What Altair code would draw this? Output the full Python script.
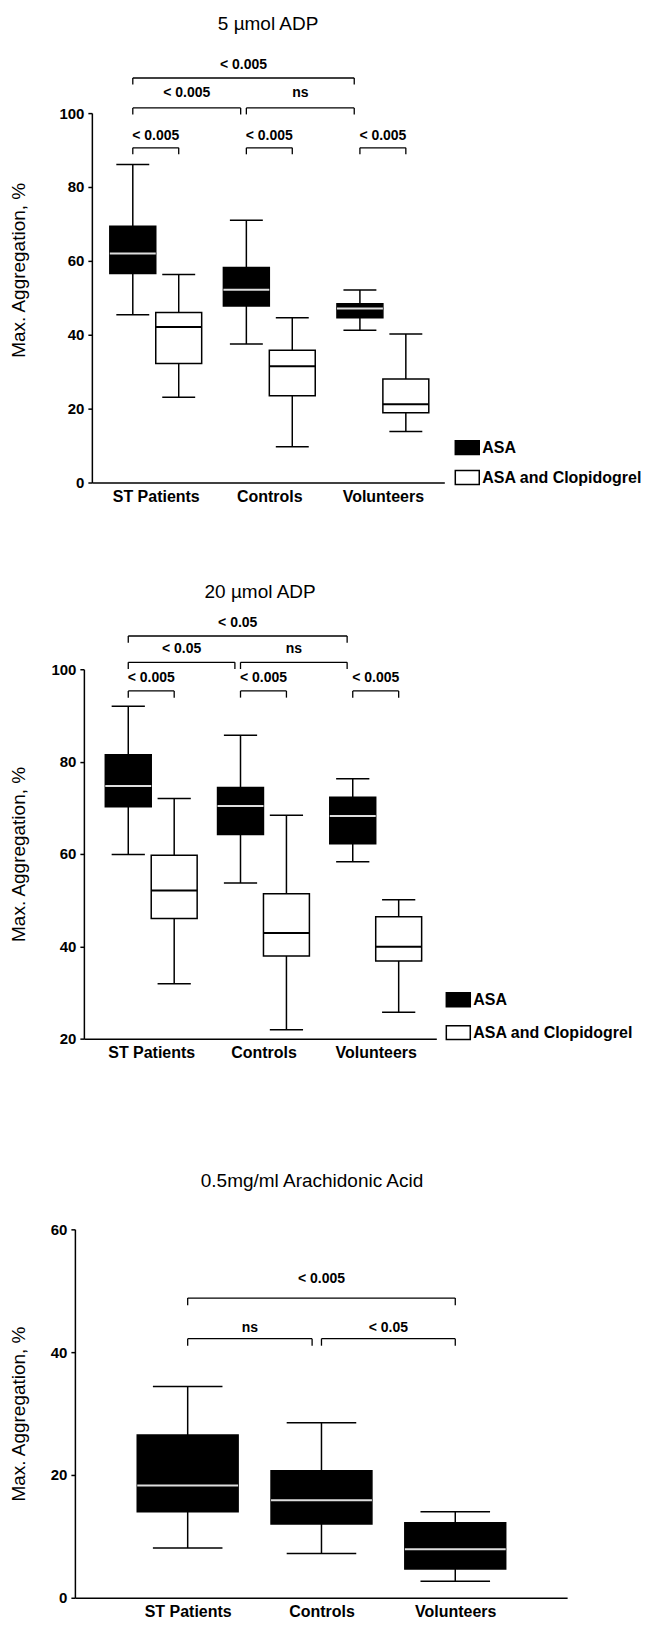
import altair as alt
import pandas as pd

FONT = "Liberation Sans"

groups = ["ST Patients", "Controls", "Volunteers"]
treatments = ["ASA", "ASA and Clopidogrel"]

# ---------- Panel 1: 5 µmol ADP ----------
adp5_asa_low = [45.4, 37.5, 41.2]
adp5_asa_q1 = [56.6, 47.8, 44.6]
adp5_asa_med = [62.0, 52.2, 47.1]
adp5_asa_q3 = [69.4, 58.2, 48.4]
adp5_asa_high = [86.1, 71.0, 52.1]
adp5_clo_low = [23.1, 9.7, 13.8]
adp5_clo_q1 = [32.2, 23.5, 18.9]
adp5_clo_med = [42.1, 31.5, 21.2]
adp5_clo_q3 = [46.0, 35.8, 28.0]
adp5_clo_high = [56.3, 44.6, 40.2]

adp5_br_from_group = ["ST Patients", "Controls", "Volunteers", "ST Patients", "Controls", "ST Patients"]
adp5_br_from_treat = ["ASA", "ASA", "ASA", "ASA", "ASA", "ASA"]
adp5_br_to_group = ["ST Patients", "Controls", "Volunteers", "Controls", "Volunteers", "Volunteers"]
adp5_br_to_treat = ["ASA and Clopidogrel", "ASA and Clopidogrel", "ASA and Clopidogrel", "ASA", "ASA", "ASA"]
adp5_br_level = [90.6, 90.6, 90.6, 101.4, 101.4, 109.5]
adp5_br_label = ["< 0.005", "< 0.005", "< 0.005", "< 0.005", "ns", "< 0.005"]
adp5_br_label_level = [93.9, 93.9, 93.9, 105.4, 105.4, 112.9]

# ---------- Panel 2: 20 µmol ADP ----------
adp20_asa_low = [59.9, 53.7, 58.3]
adp20_asa_q1 = [70.2, 64.2, 62.2]
adp20_asa_med = [74.7, 70.4, 68.2]
adp20_asa_q3 = [81.5, 74.4, 72.3]
adp20_asa_high = [92.0, 85.7, 76.3]
adp20_clo_low = [31.9, 21.9, 25.7]
adp20_clo_q1 = [46.0, 37.9, 36.8]
adp20_clo_med = [52.1, 42.9, 39.9]
adp20_clo_q3 = [59.7, 51.4, 46.4]
adp20_clo_high = [72.0, 68.4, 50.1]

adp20_br_from_group = ["ST Patients", "Controls", "Volunteers", "ST Patients", "Controls", "ST Patients"]
adp20_br_from_treat = ["ASA", "ASA", "ASA", "ASA", "ASA", "ASA"]
adp20_br_to_group = ["ST Patients", "Controls", "Volunteers", "Controls", "Volunteers", "Volunteers"]
adp20_br_to_treat = ["ASA and Clopidogrel", "ASA and Clopidogrel", "ASA and Clopidogrel", "ASA", "ASA", "ASA"]
adp20_br_level = [95.3, 95.3, 95.3, 101.5, 101.5, 107.2]
adp20_br_label = ["< 0.005", "< 0.005", "< 0.005", "< 0.05", "ns", "< 0.05"]
adp20_br_label_level = [98.1, 98.1, 98.1, 104.4, 104.4, 110.0]

# ---------- Panel 3: 0.5 mg/ml Arachidonic Acid (ASA only) ----------
aa_asa_low = [8.1, 7.2, 2.7]
aa_asa_q1 = [14.0, 12.0, 4.7]
aa_asa_med = [18.3, 15.9, 7.9]
aa_asa_q3 = [26.5, 20.7, 12.2]
aa_asa_high = [34.4, 28.5, 14.0]

aa_br_from_group = ["ST Patients", "Controls", "ST Patients"]
aa_br_from_treat = ["ASA", "ASA", "ASA"]
aa_br_to_group = ["Controls", "Volunteers", "Volunteers"]
aa_br_to_treat = ["ASA", "ASA", "ASA"]
aa_br_level = [42.2, 42.2, 48.8]
aa_br_label = ["ns", "< 0.05", "< 0.005"]
aa_br_label_level = [43.9, 43.9, 51.9]


def box_table(series, box_half, cap_half):
    rows = []
    n_t = len(series)
    for k, (t, low, q1, med, q3, high) in enumerate(series):
        off = (k - (n_t - 1) / 2) * 2 * box_half
        for i, g in enumerate(groups):
            c = i + off
            rows.append(dict(group=g, treatment=t, c=c,
                             box_l=c - box_half, box_r=c + box_half,
                             cap_l=c - cap_half, cap_r=c + cap_half,
                             low=low[i], q1=q1[i], med=med[i], q3=q3[i], high=high[i]))
    return pd.DataFrame(rows)


def bracket_table(boxes, fg, ft, tg, tt, level, label, llevel, tip, gap):
    centre = {(r.group, r.treatment): r.c for r in boxes.itertuples()}
    starts = [centre[(a, b)] for a, b in zip(fg, ft)]
    rows = []
    for i in range(len(fg)):
        x1 = starts[i]
        x2 = centre[(tg[i], tt[i])]
        if any(abs(x2 - s) < 1e-9 for s in starts):
            x2 -= gap
        rows.append(dict(x1=x1, x2=x2, xm=(x1 + x2) / 2, y=level[i],
                         ytip=level[i] - tip, ly=llevel[i], label=label[i]))
    return pd.DataFrame(rows)


label_expr = "[" + ",".join("'%s'" % g for g in groups) + "][datum.value]"
RECT_PATH = "M-1,-0.58L1,-0.58L1,0.58L-1,0.58Z"


def panel(title, title_offset, boxes, brackets, x_domain, y_domain, y_values,
          width, height, title_pad, legend_xy=None, legend_row_pad=7, title_y=None,
          title_dx=0):
    xs = alt.Scale(domain=x_domain, nice=False, zero=False)
    ys = alt.Scale(domain=y_domain, nice=False, zero=False)
    x_axis = alt.Axis(values=[0, 1, 2], labelExpr=label_expr, ticks=False, grid=False,
                      title=None, labelFontSize=16, labelFontWeight="bold",
                      labelPadding=6, domainWidth=1.5,
                      labelFont=FONT, labelColor="black", domainColor="black")
    y_kw = dict(values=y_values, grid=False, title="Max. Aggregation, %",
                titleFontSize=19, titleFontWeight="normal", titleFont=FONT,
                titlePadding=title_pad, labelFontSize=15, labelFontWeight="bold",
                labelFont=FONT, labelPadding=4, tickSize=4, tickWidth=1.5,
                domainWidth=1.5, labelColor="black", titleColor="black",
                tickColor="black", domainColor="black")
    if title_y is not None:
        y_kw["titleY"] = title_y
    y_axis = alt.Axis(**y_kw)

    def X(f):
        return alt.X(f, type="quantitative", scale=xs, axis=x_axis)

    def Y(f):
        return alt.Y(f, type="quantitative", scale=ys, axis=y_axis)

    b = alt.Chart(boxes)
    whisk = b.mark_rule(color="black", strokeWidth=1.5).encode(x=X("c"), y=Y("low"), y2="high")
    cap_lo = b.mark_rule(color="black", strokeWidth=1.5).encode(x=X("cap_l"), x2="cap_r", y=Y("low"))
    cap_hi = b.mark_rule(color="black", strokeWidth=1.5).encode(x=X("cap_l"), x2="cap_r", y=Y("high"))
    if legend_xy is not None:
        fill = alt.Fill("treatment:N",
                        scale=alt.Scale(domain=treatments, range=["black", "white"]),
                        legend=alt.Legend(title=None, orient="none",
                                          legendX=legend_xy[0], legendY=legend_xy[1],
                                          symbolType=RECT_PATH, symbolSize=576,
                                          symbolStrokeColor="black", symbolStrokeWidth=1.5,
                                          symbolOpacity=1, labelLimit=0,
                                          labelFontSize=16, labelFontWeight="bold",
                                          labelFont=FONT, labelColor="black",
                                          labelOffset=2, rowPadding=legend_row_pad))
        box = b.mark_rect(stroke="black", strokeWidth=1.5, opacity=1).encode(
            x=X("box_l"), x2="box_r", y=Y("q1"), y2="q3", fill=fill)
    else:
        box = b.mark_rect(stroke="black", strokeWidth=1.5, fill="black").encode(
            x=X("box_l"), x2="box_r", y=Y("q1"), y2="q3")
    med = b.mark_rule(strokeWidth=2).encode(
        x=X("box_l"), x2="box_r", y=Y("med"),
        color=alt.condition(alt.datum.treatment == "ASA", alt.value("#dedede"), alt.value("black")))

    br = alt.Chart(brackets)
    hline = br.mark_rule(color="black", strokeWidth=1.3).encode(x=X("x1"), x2="x2", y=Y("y"))
    ltip = br.mark_rule(color="black", strokeWidth=1.3).encode(x=X("x1"), y=Y("y"), y2="ytip")
    rtip = br.mark_rule(color="black", strokeWidth=1.3).encode(x=X("x2"), y=Y("y"), y2="ytip")
    txt = br.mark_text(fontSize=14, fontWeight="bold", font=FONT, baseline="middle",
                       color="black").encode(x=X("xm"), y=Y("ly"), text="label:N")

    layered = alt.layer(whisk, cap_lo, cap_hi, box, med, hline, ltip, rtip, txt).properties(
        width=width, height=height,
        title=alt.TitleParams(title, fontSize=19, fontWeight="normal", font=FONT,
                              offset=title_offset, anchor="middle", color="black",
                              dx=title_dx))
    # a 1px invisible spacer on the left so each panel's own left extent sets its position
    spacer = alt.Chart(pd.DataFrame({"v": [0]})).mark_point(opacity=0, size=1).properties(
        width=1, height=1)
    return alt.hconcat(spacer, layered, spacing=0).resolve_scale(
        fill="independent").resolve_legend(fill="independent")


# tables
b1 = box_table([("ASA", adp5_asa_low, adp5_asa_q1, adp5_asa_med, adp5_asa_q3, adp5_asa_high),
                ("ASA and Clopidogrel", adp5_clo_low, adp5_clo_q1, adp5_clo_med, adp5_clo_q3, adp5_clo_high)],
               box_half=0.2022, cap_half=0.145)
br1 = bracket_table(b1, adp5_br_from_group, adp5_br_from_treat, adp5_br_to_group, adp5_br_to_treat,
                    adp5_br_level, adp5_br_label, adp5_br_label_level, tip=1.75, gap=0.05)

b2 = box_table([("ASA", adp20_asa_low, adp20_asa_q1, adp20_asa_med, adp20_asa_q3, adp20_asa_high),
                ("ASA and Clopidogrel", adp20_clo_low, adp20_clo_q1, adp20_clo_med, adp20_clo_q3, adp20_clo_high)],
               box_half=0.2046, cap_half=0.148)
br2 = bracket_table(b2, adp20_br_from_group, adp20_br_from_treat, adp20_br_to_group, adp20_br_to_treat,
                    adp20_br_level, adp20_br_label, adp20_br_label_level, tip=1.45, gap=0.05)

b3 = box_table([("ASA", aa_asa_low, aa_asa_q1, aa_asa_med, aa_asa_q3, aa_asa_high)],
               box_half=0.377, cap_half=0.26)
br3 = bracket_table(b3, aa_br_from_group, aa_br_from_treat, aa_br_to_group, aa_br_to_treat,
                    aa_br_level, aa_br_label, aa_br_label_level, tip=1.15, gap=0.07)

p1 = panel("5 µmol ADP", 25, b1, br1, [-0.5626, 2.541], [0, 100], [0, 20, 40, 60, 80, 100],
           353, 370, title_pad=30, legend_xy=(363, 322), title_y=157)
p2 = panel("20 µmol ADP", 14, b2, br2, [-0.6, 2.54], [20, 100], [20, 40, 60, 80, 100],
           353, 370, title_pad=22, legend_xy=(362, 318), legend_row_pad=10)
p3 = panel("0.5mg/ml Arachidonic Acid", 31, b3, br3, [-0.843, 2.836], [0, 60], [0, 20, 40, 60],
           493, 369, title_pad=22, title_dx=-9)

top = alt.concat(p1, p2, columns=1, spacing=78, align="none").resolve_scale(
    fill="independent").resolve_legend(fill="independent")
chart = alt.concat(top, p3, columns=1, spacing=112, align="none").resolve_scale(
    fill="independent").resolve_legend(fill="independent").properties(
    padding={"left": 0, "top": 5, "right": 0, "bottom": 0}
).configure_view(stroke=None)

chart.save("out.html", embed_options={"renderer": "svg", "actions": False})
